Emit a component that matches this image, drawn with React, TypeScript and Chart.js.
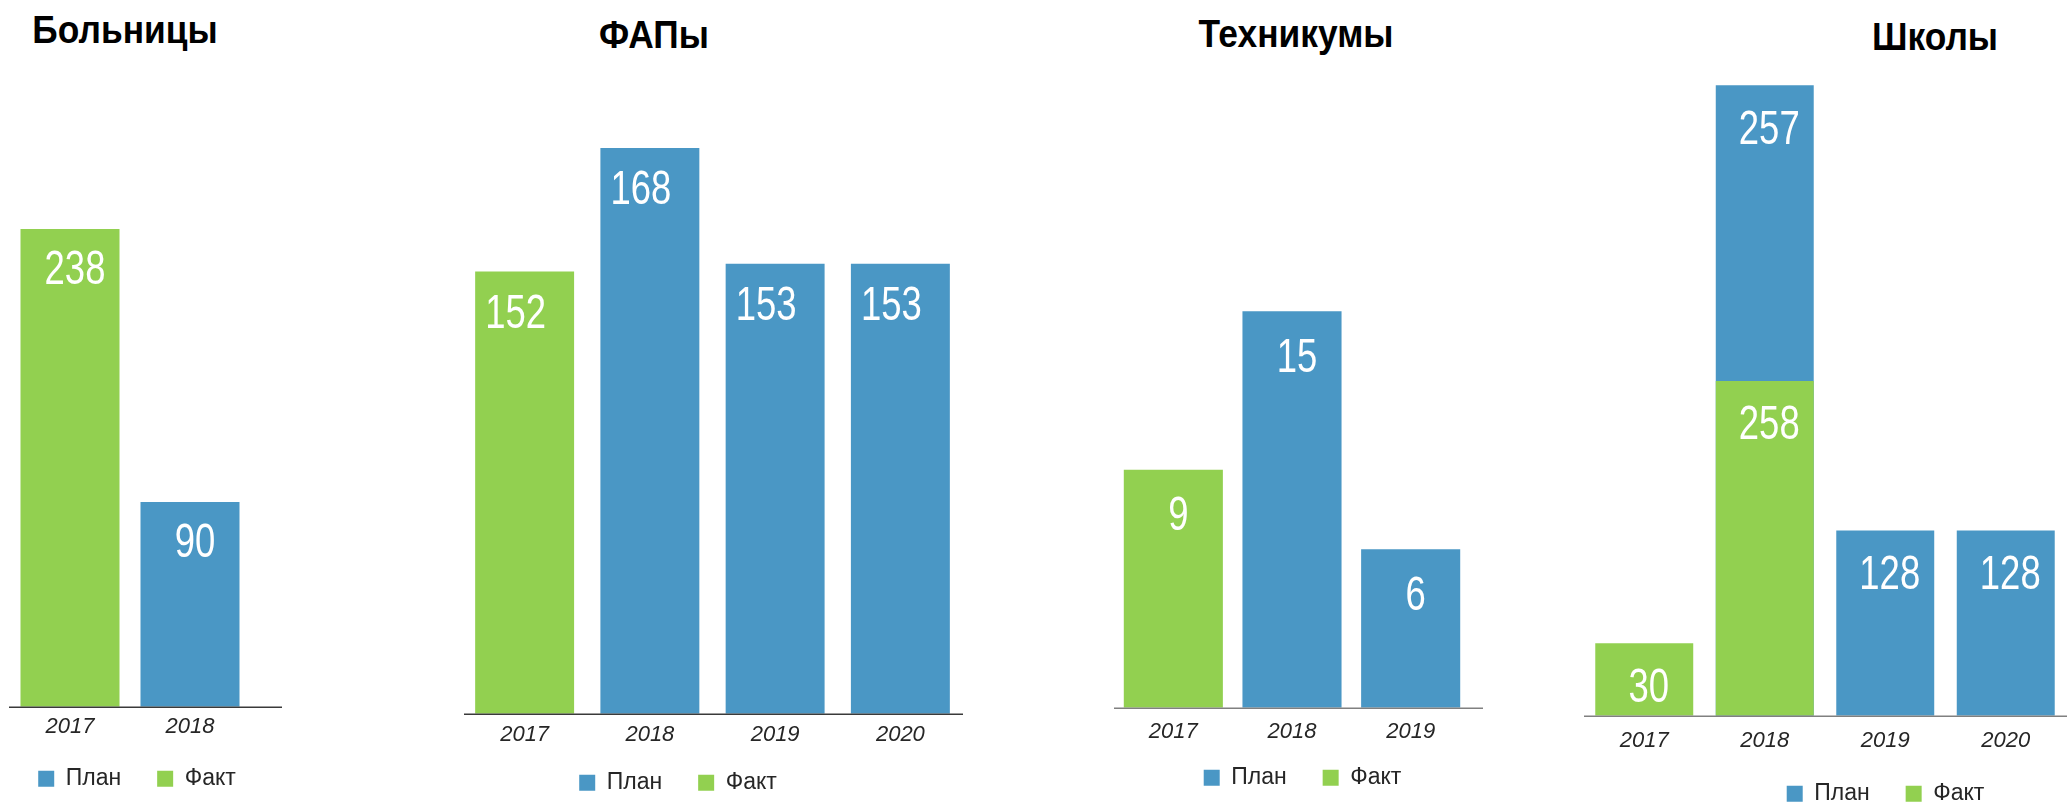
import React, { useEffect, useRef } from 'react';
import { Chart, registerables } from 'chart.js';

Chart.register(...registerables);

// ---------- data ----------
const seriesPlan = 'План';
const seriesFact = 'Факт';

const hospitalTitle = 'Больницы';
const hospitalYears = ['2017', '2018'];
const hospitalPlan: (number | null)[] = [null, 90];
const hospitalFact: (number | null)[] = [238, null];

const fapTitle = 'ФАПы';
const fapYears = ['2017', '2018', '2019', '2020'];
const fapPlan: (number | null)[] = [null, 168, 153, 153];
const fapFact: (number | null)[] = [152, null, null, null];

const techTitle = 'Техникумы';
const techYears = ['2017', '2018', '2019'];
const techPlan: (number | null)[] = [null, 15, 6];
const techFact: (number | null)[] = [9, null, null];

const schoolTitle = 'Школы';
const schoolYears = ['2017', '2018', '2019', '2020'];
const schoolPlan: (number | null)[] = [null, 257, 128, 128];
const schoolFact: (number | null)[] = [30, 258, null, null];

// ---------- styles ----------
const BLUE = '#4A97C5';
const GREEN = '#92D050';
const FONT = "'Liberation Sans', Arial, Helvetica, sans-serif";
const LEGEND_FONT = 23;
const LEGEND_PAD = 36;
const TICK_FONT = 22;
const VALUE_FONT = 48;
const VALUE_CAP = 34.4;
const VALUE_SCALE_X = 0.76;

type PanelCfg = {
  title: string;
  labels: string[];
  plan: (number | null)[];
  fact: (number | null)[];
  areaLeft: number;
  areaRight: number;
  areaTop: number;
  areaBottom: number;
  yMin: number;
  yMax: number;
  leftW: number;
  rightW: number;
  lineFrom: number;
  lineTo: number;
  lineColor: string;
  tickCenter: number;
  legendCenter: number;
  barPct: number;
  labelDx: number;
  labelTop: number;
  titleX: number;
  titleBaseline: number;
};

const panels: PanelCfg[] = [
  {
    title: hospitalTitle, labels: hospitalYears, plan: hospitalPlan, fact: hospitalFact,
    areaLeft: 10, areaRight: 250, areaTop: 60, areaBottom: 707,
    yMin: -21, yMax: 329.6, leftW: 23, rightW: 37,
    lineFrom: 9, lineTo: 282, lineColor: '#3a3a3a',
    tickCenter: 727, legendCenter: 779, barPct: 0.825,
    labelDx: 5, labelTop: 21, titleX: 124.5, titleBaseline: 43,
  },
  {
    title: fapTitle, labels: fapYears, plan: fapPlan, fact: fapFact,
    areaLeft: 462, areaRight: 963, areaTop: 60, areaBottom: 714,
    yMin: 94.7, yMax: 179.4, leftW: 69, rightW: 0,
    lineFrom: 464, lineTo: 970, lineColor: '#3a3a3a',
    tickCenter: 735, legendCenter: 783, barPct: 0.79,
    labelDx: -9, labelTop: 22, titleX: 654, titleBaseline: 48,
  },
  {
    title: techTitle, labels: techYears, plan: techPlan, fact: techFact,
    areaLeft: 1114, areaRight: 1470, areaTop: 60, areaBottom: 708,
    yMin: 0, yMax: 24.5, leftW: 0, rightW: 21,
    lineFrom: 1087, lineTo: 1483, lineColor: '#808080',
    tickCenter: 732, legendCenter: 778, barPct: 0.835,
    labelDx: 5, labelTop: 26, titleX: 1296, titleBaseline: 47,
  },
  {
    title: schoolTitle, labels: schoolYears, plan: schoolPlan, fact: schoolFact,
    areaLeft: 1584, areaRight: 2066, areaTop: 60, areaBottom: 716,
    yMin: -33, yMax: 537, leftW: 0, rightW: 121,
    lineFrom: 1568, lineTo: 2067, lineColor: '#808080',
    tickCenter: 741, legendCenter: 794, barPct: 0.813,
    labelDx: 4.5, labelTop: 24, titleX: 1935, titleBaseline: 50,
  },
];

function geometry(p: PanelCfg) {
  const canvasLeft = p.areaLeft - p.leftW;
  const width = p.leftW + (p.areaRight - p.areaLeft) + p.rightW;
  const tickPad = p.tickCenter - p.areaBottom - TICK_FONT * 0.6;
  const axisH = tickPad + TICK_FONT * 1.2 + 1;
  const height = Math.round(p.areaBottom + axisH + LEGEND_FONT + LEGEND_PAD + 10);
  const legendShift = p.areaBottom + axisH + LEGEND_PAD + LEGEND_FONT / 2 - p.legendCenter;
  return { canvasLeft, width, height, axisH, tickPad, legendShift };
}

function Panel({ p }: { p: PanelCfg }) {
  const ref = useRef<HTMLCanvasElement | null>(null);
  const g = geometry(p);

  useEffect(() => {
    if (!ref.current) return;
    const baselinePlugin = {
      id: 'baselineRule',
      afterDatasetsDraw(chart: any) {
        const { ctx, chartArea } = chart;
        ctx.save();
        ctx.strokeStyle = p.lineColor;
        ctx.lineWidth = 1.5;
        ctx.beginPath();
        ctx.moveTo(p.lineFrom - g.canvasLeft, chartArea.bottom + 0.5);
        ctx.lineTo(p.lineTo - g.canvasLeft, chartArea.bottom + 0.5);
        ctx.stroke();
        ctx.restore();
      },
    };
    const legendShiftPlugin = {
      id: 'legendShift',
      afterLayout(chart: any) {
        const lg = chart.legend;
        if (lg) {
          lg.top -= g.legendShift;
          lg.bottom -= g.legendShift;
        }
      },
    };
    const valuePlugin = {
      id: 'valueLabels',
      afterDatasetsDraw(chart: any) {
        const { ctx } = chart;
        chart.data.datasets.forEach((ds: any, i: number) => {
          const meta = chart.getDatasetMeta(i);
          meta.data.forEach((el: any, j: number) => {
            const v = ds.data[j];
            if (v === null || v === undefined) return;
            ctx.save();
            ctx.font = `${VALUE_FONT}px ${FONT}`;
            ctx.fillStyle = '#ffffff';
            ctx.textAlign = 'center';
            ctx.textBaseline = 'alphabetic';
            ctx.translate(el.x + p.labelDx, el.y + p.labelTop + VALUE_CAP);
            ctx.scale(VALUE_SCALE_X, 1);
            ctx.fillText(String(v), 0, 0);
            ctx.restore();
          });
        });
      },
    };

    const hiddenAxis = {
      grid: { display: false, drawTicks: false },
      border: { display: false },
      ticks: { display: false },
    };

    const chart = new Chart(ref.current, {
      type: 'bar',
      data: {
        labels: p.labels,
        datasets: [
          {
            label: seriesFact,
            data: p.fact,
            backgroundColor: GREEN,
            borderWidth: 0,
            base: p.yMin,
            barPercentage: p.barPct,
            categoryPercentage: 1,
            yAxisID: 'y',
          } as any,
          {
            label: seriesPlan,
            data: p.plan,
            backgroundColor: BLUE,
            borderWidth: 0,
            base: p.yMin,
            barPercentage: p.barPct,
            categoryPercentage: 1,
            yAxisID: 'y',
          } as any,
        ],
      },
      options: {
        animation: false,
        responsive: false,
        maintainAspectRatio: false,
        devicePixelRatio: 1,
        layout: { padding: { top: p.areaTop, left: 0, right: 0, bottom: 0 } },
        scales: {
          x: {
            stacked: true,
            grid: { display: false, drawTicks: false },
            border: { display: false },
            ticks: {
              padding: g.tickPad,
              color: '#262626',
              maxRotation: 0,
              autoSkip: false,
              font: { family: FONT, size: TICK_FONT, style: 'italic' },
            },
            afterFit: (s: any) => {
              s.height = g.axisH;
            },
          },
          y: {
            ...hiddenAxis,
            display: true,
            stacked: true,
            position: 'left',
            min: p.yMin,
            max: p.yMax,
            afterFit: (s: any) => {
              s.width = p.leftW;
            },
          },
          y2: {
            ...hiddenAxis,
            display: true,
            position: 'right',
            min: 0,
            max: 1,
            afterFit: (s: any) => {
              s.width = p.rightW;
            },
          },
        },
        plugins: {
          title: { display: false },
          tooltip: { enabled: false },
          legend: {
            display: true,
            position: 'bottom',
            reverse: true,
            labels: {
              boxWidth: 16,
              boxHeight: 16,
              padding: LEGEND_PAD,
              color: '#262626',
              font: { family: FONT, size: LEGEND_FONT },
            },
          },
        },
      } as any,
      plugins: [legendShiftPlugin, baselinePlugin, valuePlugin],
    });
    return () => chart.destroy();
  }, []);

  const titleSize = 38;
  const titleTop = p.titleBaseline - 32.2;

  return (
    <>
      <div
        style={{
          position: 'absolute',
          left: p.titleX - 300,
          top: titleTop,
          width: 600,
          textAlign: 'center',
          fontFamily: FONT,
          fontWeight: 'bold',
          fontSize: titleSize,
          lineHeight: `${titleSize}px`,
          color: '#000',
          transform: 'scaleX(0.93)',
          whiteSpace: 'nowrap',
        }}
      >
        {p.title}
      </div>
      <canvas
        ref={ref}
        width={g.width}
        height={g.height}
        style={{ position: 'absolute', left: g.canvasLeft, top: 0, width: g.width, height: g.height }}
      />
    </>
  );
}

export default function App() {
  return (
    <div
      style={{
        position: 'fixed',
        left: 0,
        top: 0,
        width: 2067,
        height: 804,
        overflow: 'hidden',
        background: '#ffffff',
      }}
    >
      {panels.map((p) => (
        <Panel key={p.title} p={p} />
      ))}
    </div>
  );
}
